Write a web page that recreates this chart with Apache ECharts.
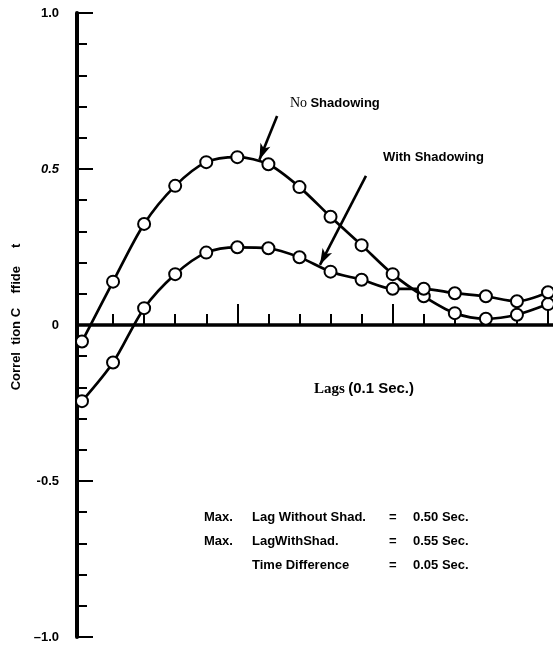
<!DOCTYPE html>
<html><head><meta charset="utf-8">
<script src="https://cdn.jsdelivr.net/npm/echarts@6/dist/echarts.min.js"></script>
<style>html,body{margin:0;padding:0;background:#fff}#c{width:553px;height:652px}</style>
</head><body><div id="c"></div>
<script>
// ---- data ----
const lags = [0,1,2,3,4,5,6,7,8,9,10,11,12,13,14,15];
const noShadowing   = [-0.053, 0.139, 0.324, 0.446, 0.522, 0.538, 0.515, 0.442, 0.347, 0.256, 0.163, 0.092, 0.038, 0.020, 0.033, 0.067];
const withShadowing = [-0.244, -0.120, 0.054, 0.163, 0.232, 0.249, 0.246, 0.217, 0.171, 0.145, 0.116, 0.116, 0.102, 0.092, 0.076, 0.105];
const xMinorTicks = [1,2,3,4,6,7,8,9,11,12,13,14];
const xMajorTicks = [5,10,15];
const xTickLabels = ['5','10','15'];
const yTickValues = [-1, -0.5, 0, 0.5, 1];
const yTickLabels = ['\u20131.0', '-0.5', '0', '0.5', '1.0'];
const yAxisTitle = 'Correl  tion C    ffide     t';
const xAxisTitleA = 'Lags';
const xAxisTitleB = '(0.1 Sec.)';
const seriesNames = ['No Shadowing', 'With Shadowing'];
const summaryRows = [
  ['Max.', 'Lag Without Shad.', '=', '0.50 Sec.'],
  ['Max.', 'LagWithShad.', '=', '0.55 Sec.'],
  ['', 'Time Difference', '=', '0.05 Sec.']
];

const SANS = '"Liberation Sans", Arial, Helvetica, sans-serif';
const SERIF = '"Liberation Serif", "Times New Roman", serif';

const chart = echarts.init(document.getElementById('c'), null, {renderer: 'canvas'});

function pair(xs, ys) { return xs.map((x, i) => [x, ys[i]]); }

const lineSeries = (name, ys, arrow) => ({
  type: 'line',
  name: name,
  xAxisIndex: 0, yAxisIndex: 0,
  data: pair(lags, ys),
  smooth: 0.3,
  symbol: 'circle',
  symbolSize: 12,
  clip: false,
  lineStyle: {color: '#000', width: 2.7},
  itemStyle: {color: '#fff', borderColor: '#000', borderWidth: 2},
  z: 3,
  markLine: {
    silent: true,
    symbol: ['none', 'arrow'],
    symbolSize: [8, 16],
    label: {show: false},
    lineStyle: {color: '#000', width: 2.6, type: 'solid'},
    data: [arrow]
  }
});

const summaryGraphics = [];
summaryRows.forEach((row, i) => {
  const y = 519 + i * 24;
  const xs = [204, 252, 389, 413];
  row.forEach((t, j) => {
    if (!t) return;
    summaryGraphics.push({
      type: 'text', left: xs[j], top: y - 8,
      style: {text: t, font: 'bold 13px ' + SANS, fill: '#000'}
    });
  });
});

const option = {
  backgroundColor: '#fff',
  animation: false,
  grid: {left: 77, right: 0, top: 13, bottom: 15, containLabel: false, outerBoundsMode: 'none'},
  xAxis: [{
    type: 'value', min: -0.16, max: 15.16,
    axisLine: {onZero: true, onZeroAxisIndex: 0, lineStyle: {color: '#000', width: 3.5}},
    axisTick: {show: true, inside: true, length: 11, customValues: xMinorTicks, lineStyle: {color: '#000', width: 2}},
    axisLabel: {show: true, customValues: xMajorTicks, margin: 18, color: '#000', fontFamily: SANS, fontWeight: 'bold', fontSize: 13,
      formatter: v => xTickLabels[xMajorTicks.indexOf(Math.round(v))] || ''},
    splitLine: {show: false}
  }, {
    type: 'value', min: -0.16, max: 15.16, position: 'bottom',
    axisLine: {show: true, onZero: true, onZeroAxisIndex: 1, lineStyle: {color: 'rgba(0,0,0,0)', width: 0}},
    axisTick: {show: true, inside: true, length: 21, customValues: xMajorTicks, lineStyle: {color: '#000', width: 2}},
    axisLabel: {show: false},
    splitLine: {show: false}
  }],
  yAxis: [{
    type: 'value', min: -1, max: 1, interval: 0.5, position: 'left',
    axisLine: {show: true, onZero: false, lineStyle: {color: '#000', width: 4}},
    axisTick: {show: true, inside: true, length: 16, lineStyle: {color: '#000', width: 2}},
    minorTick: {show: true, splitNumber: 5, length: 10, lineStyle: {color: '#000', width: 2}},
    axisLabel: {margin: 18, color: '#000', fontFamily: SANS, fontWeight: 'bold', fontSize: 13,
      formatter: v => {
        const k = yTickValues.findIndex(t => Math.abs(t - v) < 1e-9);
        const s = k >= 0 ? yTickLabels[k] : '';
        return Math.abs(v - 0.5) < 1e-9 ? '{i|' + s + '}' : s;
      },
      rich: {i: {fontStyle: 'italic', fontWeight: 'bold', fontFamily: SANS, fontSize: 13, color: '#000'}}
    },
    splitLine: {show: false}
  }, {
    type: 'value', min: -1, max: 1, interval: 0.5, position: 'right',
    axisLine: {show: false, onZero: false},
    axisTick: {show: false}, axisLabel: {show: false}, splitLine: {show: false}
  }],
  series: [
    lineSeries(seriesNames[0], noShadowing, [{coord: [6.28, 0.67]}, {coord: [5.71, 0.53]}]),
    lineSeries(seriesNames[1], withShadowing, [{coord: [9.14, 0.478]}, {coord: [7.66, 0.193]}])
  ],
  graphic: [
    {type: 'text', left: 290, top: 96,
      style: {text: '{s|No} {b|Shadowing}', rich: {
        s: {font: '14px ' + SERIF, fill: '#000'},
        b: {font: 'bold 13px ' + SANS, fill: '#000'}}}},
    {type: 'text', left: 383, top: 151,
      style: {text: 'With Shadowing', font: 'bold 13px ' + SANS, fill: '#000'}},
    {type: 'text', x: 364, y: 389,
      style: {text: '{s|' + xAxisTitleA + '} {b|' + xAxisTitleB + '}', align: 'center', verticalAlign: 'middle', rich: {
        s: {font: 'bold 15px ' + SERIF, fill: '#000'},
        b: {font: 'bold 15px ' + SANS, fill: '#000'}}}},
    {type: 'text', x: 16, y: 317, rotation: Math.PI / 2,
      style: {text: yAxisTitle, font: 'bold 13px ' + SANS, fill: '#000', align: 'center', verticalAlign: 'middle'}}
  ].concat(summaryGraphics)
};
chart.setOption(option);
</script>
</body></html>
